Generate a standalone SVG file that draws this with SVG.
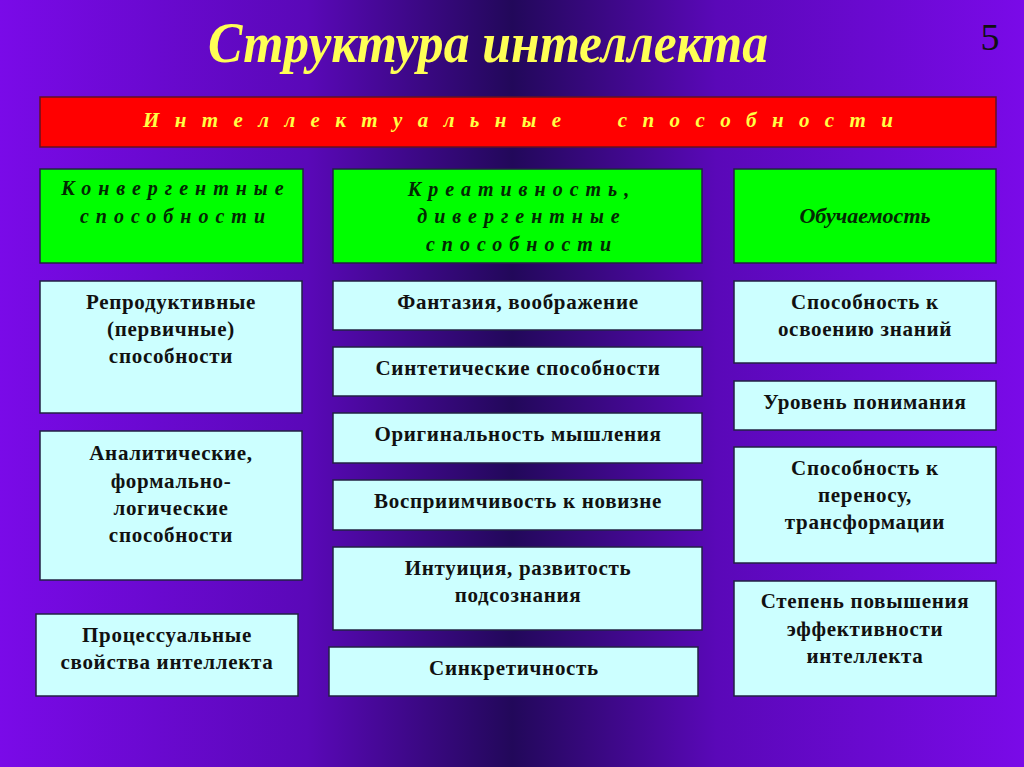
<svg xmlns="http://www.w3.org/2000/svg" width="1024" height="767" viewBox="0 0 1024 767">
<defs>
<linearGradient id="bg" x1="0" y1="0" x2="1" y2="0">
<stop offset="0" stop-color="#7a0ae8"/>
<stop offset="0.3" stop-color="#5a08b8"/>
<stop offset="0.5" stop-color="#22085a"/>
<stop offset="0.7" stop-color="#5a08b8"/>
<stop offset="1" stop-color="#7a0ae8"/>
</linearGradient>
</defs>
<style>
.box{fill:#ccffff;stroke:#222244;stroke-width:1.5}
.grn{fill:#00ff00;stroke:#222244;stroke-width:1.5}
.t{font-family:"Liberation Serif","Times New Roman",serif;font-weight:bold;font-size:21px;fill:#111;text-anchor:middle;letter-spacing:0.7px}
.g{font-family:"Liberation Serif","Times New Roman",serif;font-weight:bold;font-style:italic;font-size:20px;fill:#032803;text-anchor:middle;letter-spacing:7px}
</style>
<rect width="1024" height="767" fill="url(#bg)"/>
<text x="488" y="62" font-family="Liberation Serif,serif" font-weight="bold" font-style="italic" font-size="58" fill="#ffff55" text-anchor="middle" textLength="560" lengthAdjust="spacingAndGlyphs">Структура интеллекта</text>
<text x="990" y="50" font-family="Liberation Serif,serif" font-size="38" fill="#111" text-anchor="middle">5</text>
<g id="top">
<rect x="40" y="97" width="956" height="50" fill="#ff0000" stroke="#661122" stroke-width="1.5"/>
<text x="518" y="127" font-family="Liberation Serif,serif" font-weight="bold" font-style="italic" font-size="21" fill="#ffff44" text-anchor="middle" textLength="750" lengthAdjust="spacing" xml:space="preserve">И н т е л л е к т у а л ь н ы е     с п о с о б н о с т и</text>
</g>
<g id="conv">
<rect class="grn" x="40" y="169" width="263" height="94"/>
<text class="g" x="176" y="195">Конвергентные</text>
<text class="g" x="176" y="223">способности</text>
</g>
<g id="creat">
<rect class="grn" x="333" y="169" width="369" height="94"/>
<text class="g" x="522" y="196">Креативность,</text>
<text class="g" x="522" y="223">дивергентные</text>
<text class="g" x="522" y="251">способности</text>
</g>
<g id="learn">
<rect class="grn" x="734" y="169" width="262" height="94"/>
<text class="g" x="865" y="223" style="letter-spacing:0;font-size:22px">Обучаемость</text>
</g>
<g id="c1">
<rect class="box" x="40" y="281" width="262" height="132"/>
<text class="t" x="171" y="309">Репродуктивные</text>
<text class="t" x="171" y="336">(первичные)</text>
<text class="t" x="171" y="363">способности</text>
</g>
<g id="c2">
<rect class="box" x="40" y="431" width="262" height="149"/>
<text class="t" x="171" y="460">Аналитические,</text>
<text class="t" x="171" y="488">формально-</text>
<text class="t" x="171" y="515">логические</text>
<text class="t" x="171" y="542">способности</text>
</g>
<g id="c3">
<rect class="box" x="36" y="614" width="262" height="82"/>
<text class="t" x="167" y="642">Процессуальные</text>
<text class="t" x="167" y="669">свойства интеллекта</text>
</g>
<g id="m1">
<rect class="box" x="333" y="281" width="369" height="49"/>
<text class="t" x="518" y="309">Фантазия, воображение</text>
</g>
<g id="m2">
<rect class="box" x="333" y="347" width="369" height="49"/>
<text class="t" x="518" y="375">Синтетические способности</text>
</g>
<g id="m3">
<rect class="box" x="333" y="413" width="369" height="50"/>
<text class="t" x="518" y="441">Оригинальность мышления</text>
</g>
<g id="m4">
<rect class="box" x="333" y="480" width="369" height="50"/>
<text class="t" x="518" y="508">Восприимчивость к новизне</text>
</g>
<g id="m5">
<rect class="box" x="333" y="547" width="369" height="83"/>
<text class="t" x="518" y="575">Интуиция, развитость</text>
<text class="t" x="518" y="602">подсознания</text>
</g>
<g id="m6">
<rect class="box" x="329" y="647" width="369" height="49"/>
<text class="t" x="514" y="675">Синкретичность</text>
</g>
<g id="r1">
<rect class="box" x="734" y="281" width="262" height="82"/>
<text class="t" x="865" y="309">Способность к</text>
<text class="t" x="865" y="336">освоению знаний</text>
</g>
<g id="r2">
<rect class="box" x="734" y="381" width="262" height="49"/>
<text class="t" x="865" y="409">Уровень понимания</text>
</g>
<g id="r3">
<rect class="box" x="734" y="447" width="262" height="116"/>
<text class="t" x="865" y="475">Способность к</text>
<text class="t" x="865" y="502">переносу,</text>
<text class="t" x="865" y="529">трансформации</text>
</g>
<g id="r4">
<rect class="box" x="734" y="581" width="262" height="115"/>
<text class="t" x="865" y="608">Степень повышения</text>
<text class="t" x="865" y="636">эффективности</text>
<text class="t" x="865" y="663">интеллекта</text>
</g>
<g id="connectors"/>
</svg>
